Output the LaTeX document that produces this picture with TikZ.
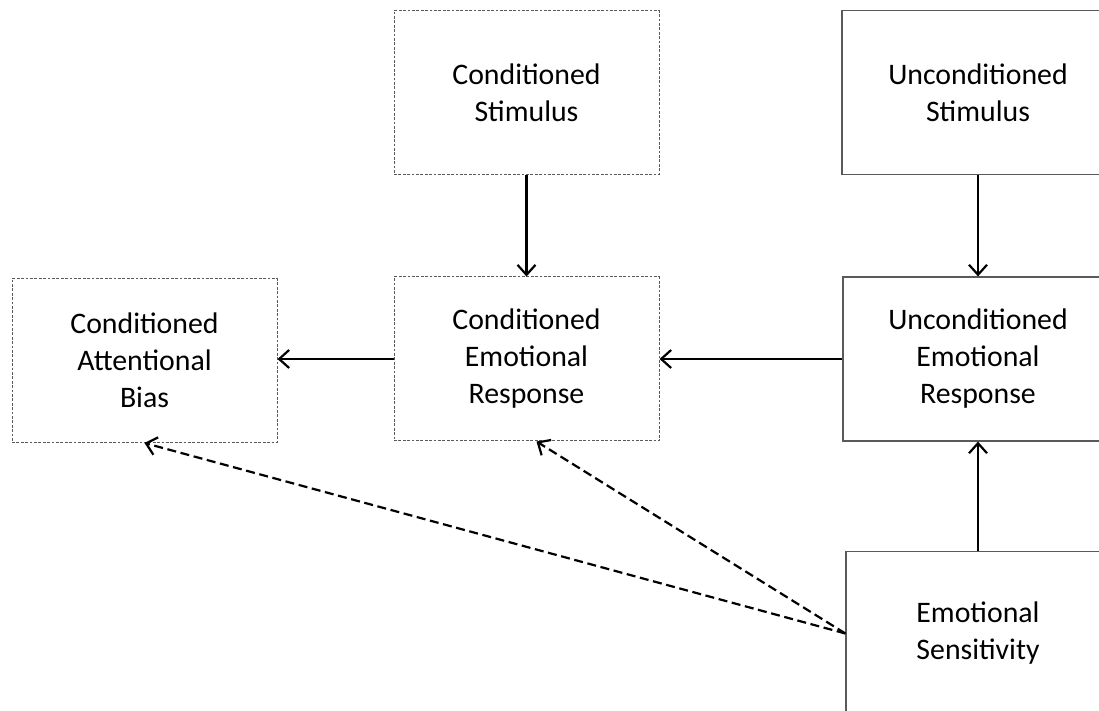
\documentclass[tikz,border=0pt]{standalone}
\usepackage{fontspec}
\setmainfont{Carlito}
\usetikzlibrary{arrows.meta}
\definecolor{boxgray}{HTML}{5A5A5A}
\tikzset{
  solid box/.style={draw=boxgray,line width=0.6pt,minimum width=136pt,
    minimum height=82pt,align=center,font=\fontsize{14.9}{18.5}\selectfont},
  cond box/.style={solid box,draw=boxgray,dash pattern=on 1.4pt off 0.8pt,
    line width=0.5pt,minimum width=132.5pt},
  link/.style={draw=black,line width=1.1pt,-{Straight Barb[length=5pt,width=9pt]}},
  dashed link/.style={link,dash pattern=on 4.5pt off 2.3pt}
}
\begin{document}
\begin{tikzpicture}[x=0.5pt,y=-0.5pt]
  \useasboundingbox (0,0) rectangle (1099,711);
  % conditioned (hypothetical) constructs
  \node[cond box] (cs) at (526.5,92.5) {Conditioned\\Stimulus};
  \node[cond box] (cer) at (526.5,359) {Conditioned\\Emotional\\Response};
  \node[cond box] (cab) at (144.5,360.5) {Conditioned\\Attentional\\Bias};
  % unconditioned constructs
  \node[solid box] (us) at (978,92.5) {Unconditioned\\Stimulus};
  \node[solid box,minimum width=135pt] (uer) at (978,359) {Unconditioned\\Emotional\\Response};
  \node[solid box,minimum width=132pt] (es) at (978,633.5) {Emotional\\Sensitivity};
  \draw[link] (cs) -- (cer);
  \draw[link] (us) -- (uer);
  \draw[link] (es) -- (uer);
  \draw[link] (uer) -- (cer);
  \draw[link] (cer.west) -- (cab.east |- cer.west);
  \draw[dashed link] (es.west) -- (cab.south);
  \draw[dashed link] (es.west) -- ([xshift=5pt]cer.south);
\end{tikzpicture}
\end{document}
